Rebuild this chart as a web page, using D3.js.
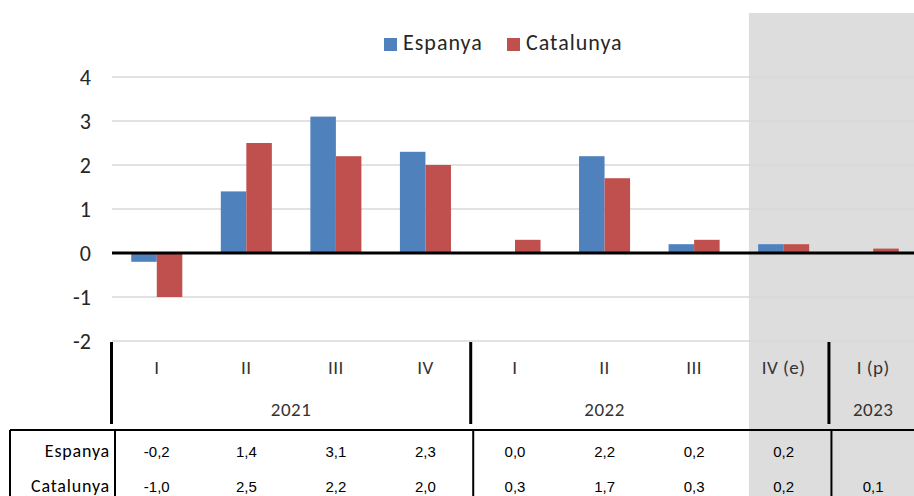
<!DOCTYPE html>
<html>
<head>
<meta charset="utf-8">
<title>Espanya / Catalunya</title>
<script src="https://d3js.org/d3.v7.min.js"></script>
<style>
  * { margin: 0; padding: 0; }
  body { background: #fff; overflow: hidden; }
  svg { display: block; }
</style>
</head>
<body>
<div id="chart"></div>
<script>
// dades
const quarters = ["I", "II", "III", "IV", "I", "II", "III", "IV (e)", "I (p)"];
const espanya = [-0.2, 1.4, 3.1, 2.3, 0.0, 2.2, 0.2, 0.2, null];
const catalunya = [-1.0, 2.5, 2.2, 2.0, 0.3, 1.7, 0.3, 0.2, 0.1];
const seriesNames = ["Espanya", "Catalunya"];
const seriesColors = ["#4F81BD", "#C0504D"];
const yTicks = [-2, -1, 0, 1, 2, 3, 4];
const yearLabels = ["2021", "2022", "", "2023"];
const yearFrom = [0, 4, 7, 8];
const yearTo = [3, 6, 7, 8];
const shadedFrom = 7; // IV (e) i I (p)

const width = 914, height = 496;
const font = "Carlito, Lato, 'Open Sans', sans-serif";
const numFont = "'Liberation Sans', Arial, sans-serif";
// format català: coma decimal i guionet com a signe
const fmt = v => v == null ? "" : v.toFixed(1).replace(".", ",");

const svg = d3.select("#chart").append("svg")
  .attr("width", width).attr("height", height);

const idx = d3.range(quarters.length);
const x = d3.scaleBand().domain(idx).range([112, 918]).padding(0);
const step = x.step();
const xs = d3.scaleBand().domain(seriesNames).range([step * 0.215, step * 0.785]);
const y = d3.scaleLinear().domain([-2, 4]).range([341, 77]);

// zona ombrejada
svg.append("rect")
  .attr("x", x(shadedFrom) + 10).attr("y", 13)
  .attr("width", width - x(shadedFrom) - 10).attr("height", height - 13)
  .attr("fill", "#DDDDDD");

// graella
svg.append("g").selectAll("line").data(yTicks.filter(d => d !== 0)).join("line")
  .attr("x1", 112).attr("x2", width)
  .attr("y1", d => y(d)).attr("y2", d => y(d))
  .attr("stroke", "#D9D9D9").attr("stroke-width", 1.5);

// eix Y
const yAxis = svg.append("g").attr("transform", "translate(91,0)")
  .call(d3.axisLeft(y).tickValues(yTicks).tickSize(0).tickPadding(0).tickFormat(d => String(d)));
yAxis.select(".domain").remove();
yAxis.selectAll("text").attr("font-family", font).attr("font-size", 22).attr("fill", "#262626");

// barres
const seriesData = [espanya, catalunya];
seriesData.forEach((vals, s) => {
  svg.append("g").selectAll("rect")
    .data(idx.filter(i => vals[i] != null))
    .join("rect")
    .attr("x", i => x(i) + xs(seriesNames[s]))
    .attr("width", xs.bandwidth())
    .attr("y", i => y(Math.max(0, vals[i])))
    .attr("height", i => Math.abs(y(vals[i]) - y(0)))
    .attr("fill", seriesColors[s]);
});

// línia del zero
svg.append("line")
  .attr("x1", 112).attr("x2", width)
  .attr("y1", y(0)).attr("y2", y(0))
  .attr("stroke", "#000").attr("stroke-width", 3);

// eix de categories (multinivell)
svg.append("g").selectAll("text").data(idx).join("text")
  .attr("x", i => x(i) + step / 2).attr("y", 369)
  .attr("text-anchor", "middle").attr("dominant-baseline", "middle")
  .attr("font-family", font).attr("font-size", 19).attr("letter-spacing", 0.5).attr("fill", "#333")
  .text(i => quarters[i]);

svg.append("g").selectAll("text").data(d3.range(yearLabels.length).filter(k => yearLabels[k])).join("text")
  .attr("x", k => (x(yearFrom[k]) + x(yearTo[k]) + step) / 2).attr("y", 411)
  .attr("text-anchor", "middle").attr("dominant-baseline", "middle")
  .attr("font-family", font).attr("font-size", 19).attr("letter-spacing", 0.5).attr("fill", "#333")
  .text(k => yearLabels[k]);

const bounds = [0, 4, 8];
svg.append("g").selectAll("line").data(bounds).join("line")
  .attr("x1", i => x(i) - 0.5 + (i ? 1 : 0)).attr("x2", i => x(i) - 0.5 + (i ? 1 : 0))
  .attr("y1", 342).attr("y2", 424)
  .attr("stroke", "#000").attr("stroke-width", 3);

// taula de dades
const tableTop = 430;
svg.append("line").attr("x1", 10).attr("x2", width)
  .attr("y1", tableTop).attr("y2", tableTop)
  .attr("stroke", "#000").attr("stroke-width", 2);
svg.append("g").selectAll("line").data([null, ...bounds]).join("line")
  .attr("x1", i => i == null ? 10 : x(i) + 3).attr("x2", i => i == null ? 10 : x(i) + 3)
  .attr("y1", tableTop).attr("y2", height)
  .attr("stroke", "#000").attr("stroke-width", 2);

const rowY = [453, 488];
seriesNames.forEach((name, s) => {
  svg.append("text").attr("x", 110).attr("y", rowY[s])
    .attr("text-anchor", "end").attr("dominant-baseline", "middle")
    .attr("font-family", font).attr("font-size", 18).attr("letter-spacing", 0.8).attr("fill", "#000")
    .text(name);
  svg.append("g").selectAll("text").data(idx).join("text")
    .attr("x", i => x(i) + step / 2).attr("y", rowY[s])
    .attr("text-anchor", "middle").attr("dominant-baseline", "middle")
    .attr("font-family", numFont).attr("font-size", 15).attr("fill", "#000")
    .text(i => fmt(seriesData[s][i]));
});

// llegenda
const legend = svg.append("g").attr("transform", "translate(384,38)");
const items = [{ n: "Espanya", c: seriesColors[0], x: 0 }, { n: "Catalunya", c: seriesColors[1], x: 123 }];
const li = legend.selectAll("g").data(items).join("g").attr("transform", d => `translate(${d.x},0)`);
li.append("rect").attr("width", 13).attr("height", 13).attr("fill", d => d.c);
li.append("text").attr("x", 19).attr("y", 7).attr("dominant-baseline", "middle")
  .attr("font-family", font).attr("font-size", 22).attr("letter-spacing", 1).attr("fill", "#262626")
  .text(d => d.n);
</script>
</body>
</html>
